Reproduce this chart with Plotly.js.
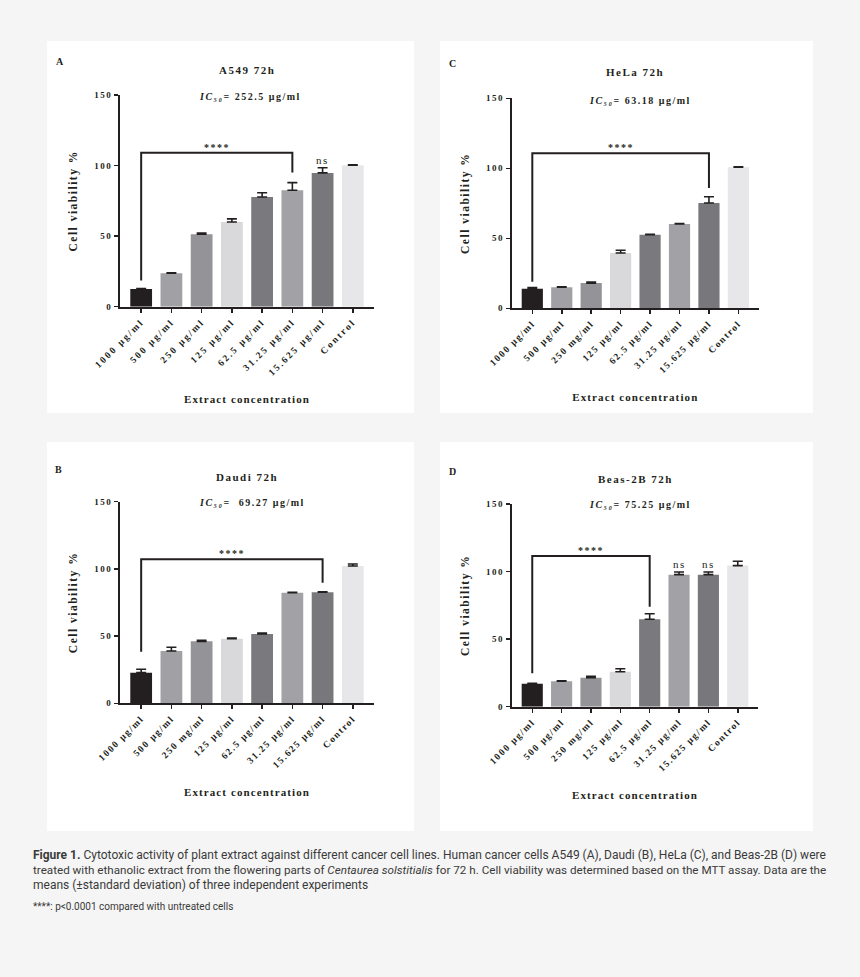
<!DOCTYPE html>
<html>
<head>
<meta charset="utf-8">
<script src="https://cdn.plot.ly/plotly-3.0.1.min.js"></script>
<style>
  html, body { margin: 0; padding: 0; background: #f5f5f5; }
  text[style*="Liberation Serif"] { letter-spacing: 1.5px; }
  .xtick text { letter-spacing: 2px !important; }
  text.xtitle, text.x2title, text.x3title, text.x4title { letter-spacing: 1.1px !important; }
</style>
</head>
<body>
<div id="chart" style="width:860px;height:977px;"></div>
<script>
// ---------------- DATA ----------------
const categoriesA = ['1000 μg/ml', '500 μg/ml', '250 μg/ml', '125 μg/ml', '62.5 μg/ml', '31.25 μg/ml', '15.625 μg/ml', 'Control'];
const categoriesBCD = ['1000 μg/ml', '500 μg/ml', '250 mg/ml', '125 μg/ml', '62.5 μg/ml', '31.25 μg/ml', '15.625 μg/ml', 'Control'];
const barColors = ['#231f20', '#a1a1a5', '#949498', '#d9d9db', '#7a7a7e', '#a2a2a6', '#78787c', '#e7e7e9'];
const yTickVals = [0, 50, 100, 150];

const valuesA549 = [12.5, 23.7, 51.3, 60.0, 77.7, 82.5, 94.8, 100.2];
const errorsA549 = [0.4, 0.4, 0.8, 2.2, 3.0, 5.4, 3.7, 0.3];
const valuesHeLa = [14.0, 15.0, 18.0, 39.5, 52.6, 60.2, 75.2, 100.7];
const errorsHeLa = [0.8, 0.4, 0.8, 2.0, 0.3, 0.3, 4.5, 0.3];
const valuesDaudi = [22.8, 38.9, 46.1, 48.1, 51.6, 82.3, 82.6, 102.2];
const errorsDaudi = [2.5, 2.8, 0.7, 0.4, 0.7, 0.3, 0.3, 1.4];
const valuesBeas = [17.0, 18.8, 21.5, 25.9, 64.7, 97.7, 97.7, 104.4];
const errorsBeas = [0.3, 0.3, 1.0, 2.2, 4.1, 2.0, 2.0, 3.2];

// significance brackets: [fromIndex, toIndex], levels [left end, top, right end]
const bracketIdxA549 = [0, 5];  const bracketLvlA549 = [18.5, 109, 95];
const bracketIdxHeLa = [0, 6];  const bracketLvlHeLa = [19, 110.7, 86];
const bracketIdxDaudi = [0, 6]; const bracketLvlDaudi = [38.4, 107.1, 89.7];
const bracketIdxBeas = [0, 4];  const bracketLvlBeas = [24.7, 111.5, 74];
const nsIdxA549 = [6];
const nsIdxBeas = [5, 6];

const titles = ['A549 72h', 'HeLa 72h', 'Daudi 72h', 'Beas-2B 72h'];
const panelLetters = ['A', 'C', 'B', 'D'];
const ic50Values = ['252.5', '63.18', ' 69.27', '75.25'];
const xAxisTitle = 'Extract concentration';
const yAxisTitle = 'Cell viability %';

// ---------------- LAYOUT HELPERS ----------------
const W = 860, H = 977;
const px = v => v / W;
const py = v => 1 - v / H;
const INK = '#231f20';
const SERIF = 'Liberation Serif';

// panel geometry in pixels
const panels = [
  { cats: categoriesA, vals: valuesA549, errs: errorsA549, bIdx: bracketIdxA549, bLvl: bracketLvlA549, ns: nsIdxA549,
    box: [47, 41, 414, 413], plotX: [120, 374], plotY: [95, 306.7],
    title: [246.7, 70], ic50: [250, 96], letter: [60, 62] },
  { cats: categoriesBCD, vals: valuesHeLa, errs: errorsHeLa, bIdx: bracketIdxHeLa, bLvl: bracketLvlHeLa, ns: [],
    box: [440, 41, 813, 413], plotX: [511.7, 759], plotY: [98.3, 308.3],
    title: [635, 72.3], ic50: [640, 100], letter: [453, 64] },
  { cats: categoriesBCD, vals: valuesDaudi, errs: errorsDaudi, bIdx: bracketIdxDaudi, bLvl: bracketLvlDaudi, ns: [],
    box: [47, 442, 414, 831], plotX: [120, 374], plotY: [501.7, 703.3],
    title: [246.7, 476.7], ic50: [251.7, 502.3], letter: [59.3, 469] },
  { cats: categoriesBCD, vals: valuesBeas, errs: errorsBeas, bIdx: bracketIdxBeas, bLvl: bracketLvlBeas, ns: nsIdxBeas,
    box: [440, 442, 813, 831], plotX: [511.7, 758.3], plotY: [504, 706.7],
    title: [635, 479.3], ic50: [640, 504], letter: [453.3, 471.7] }
];

const traces = [];
const annotations = [];
const shapes = [];
const layout = {
  width: W, height: H,
  margin: { l: 0, r: 0, t: 0, b: 0 },
  paper_bgcolor: '#f5f5f5',
  plot_bgcolor: 'rgba(0,0,0,0)',
  showlegend: false,
  bargap: 0.28,
  font: { family: SERIF, color: INK }
};

panels.forEach((p, i) => {
  const n = i === 0 ? '' : String(i + 1);
  const xa = 'x' + n, ya = 'y' + n;

  layout['xaxis' + n] = {
    domain: [px(p.plotX[0]), px(p.plotX[1])],
    anchor: ya, type: 'category', range: [-0.7, 7.7],
    showline: true, linecolor: INK, linewidth: 2,
    ticks: 'outside', ticklen: 4, tickwidth: 1.5, tickcolor: INK,
    tickangle: -45,
    tickfont: { family: SERIF, size: 9.5, color: INK, weight: 'bold' },
    title: { text: xAxisTitle, standoff: 19, font: { family: SERIF, size: 11, color: INK, weight: 'bold' } },
    showgrid: false, zeroline: false, fixedrange: true
  };
  layout['yaxis' + n] = {
    domain: [py(p.plotY[1]), py(p.plotY[0])],
    anchor: xa, range: [0, 150], tickvals: yTickVals,
    showline: true, linecolor: INK, linewidth: 2,
    ticks: 'outside', ticklen: 4, tickwidth: 1.5, tickcolor: INK,
    tickfont: { family: SERIF, size: 9, color: INK, weight: 'bold' },
    title: { text: yAxisTitle, standoff: 14, font: { family: SERIF, size: 11.5, color: INK, weight: 'bold' } },
    showgrid: false, zeroline: false, fixedrange: true
  };

  // white panel card
  shapes.push({ type: 'rect', xref: 'paper', yref: 'paper', layer: 'below',
    x0: px(p.box[0]), x1: px(p.box[2]), y0: py(p.box[3]), y1: py(p.box[1]),
    fillcolor: '#ffffff', line: { width: 0 } });

  // bars
  traces.push({
    type: 'bar', x: p.cats, y: p.vals, xaxis: xa, yaxis: ya,
    marker: { color: barColors, line: { width: 0 } },
    error_y: { type: 'data', symmetric: false, array: p.errs, arrayminus: p.errs.map(() => 0),
      visible: true, color: INK, thickness: 1.6, width: 5 },
    hoverinfo: 'x+y'
  });

  // significance bracket
  const c0 = p.cats[p.bIdx[0]], c1 = p.cats[p.bIdx[1]];
  traces.push({
    type: 'scatter', mode: 'lines', xaxis: xa, yaxis: ya,
    x: [c0, c0, c1, c1], y: [p.bLvl[0], p.bLvl[1], p.bLvl[1], p.bLvl[2]],
    line: { color: INK, width: 2 }, hoverinfo: 'skip'
  });
  annotations.push({
    xref: xa, yref: ya, x: (p.bIdx[0] + p.bIdx[1]) / 2, y: p.bLvl[1],
    text: '****', showarrow: false, xanchor: 'center', yanchor: 'bottom', yshift: -2,
    font: { family: SERIF, size: 10, color: INK, weight: 'bold' }
  });
  p.ns.forEach(k => {
    annotations.push({
      xref: xa, yref: ya, x: k, y: p.vals[k] + p.errs[k],
      text: 'ns', showarrow: false, xanchor: 'center', yanchor: 'bottom', yshift: 0,
      font: { family: SERIF, size: 11, color: INK }
    });
  });

  // texts
  annotations.push({ xref: 'paper', yref: 'paper', x: px(p.title[0]), y: py(p.title[1]),
    text: titles[i], showarrow: false, xanchor: 'center', yanchor: 'middle',
    font: { family: SERIF, size: 11, color: INK, weight: 'bold' } });
  annotations.push({ xref: 'paper', yref: 'paper', x: px(p.ic50[0]), y: py(p.ic50[1]),
    text: '<i>IC₅₀</i>= ' + ic50Values[i] + ' μg/ml', showarrow: false, xanchor: 'center', yanchor: 'middle',
    font: { family: SERIF, size: 10, color: INK, weight: 'bold' } });
  annotations.push({ xref: 'paper', yref: 'paper', x: px(p.letter[0]), y: py(p.letter[1]),
    text: panelLetters[i], showarrow: false, xanchor: 'center', yanchor: 'middle',
    font: { family: SERIF, size: 10, color: INK, weight: 'bold' } });
});

// caption
const captionLines = [
  '<b>Figure 1.</b> Cytotoxic activity of plant extract against different cancer cell lines. Human cancer cells A549 (A), Daudi (B), HeLa (C), and Beas-2B (D) were',
  'treated with ethanolic extract from the flowering parts of <i>Centaurea solstitialis</i> for 72 h. Cell viability was determined based on the MTT assay. Data are the',
  'means (±standard deviation) of three independent experiments'
];
const captionY = [855, 870, 885];
const captionSize = [12, 11.65, 12];
captionLines.forEach((t, k) => {
  annotations.push({ xref: 'paper', yref: 'paper', x: px(30.5), y: py(captionY[k]),
    text: t, showarrow: false, xanchor: 'left', yanchor: 'middle',
    font: { family: 'Roboto', size: captionSize[k], color: '#3a3a3a' } });
});
annotations.push({ xref: 'paper', yref: 'paper', x: px(30.5), y: py(906),
  text: '****: p&lt;0.0001 compared with untreated cells', showarrow: false, xanchor: 'left', yanchor: 'middle',
  font: { family: 'Roboto', size: 10, color: '#3a3a3a' } });

layout.annotations = annotations;
layout.shapes = shapes;

Plotly.newPlot('chart', traces, layout, { displayModeBar: false, staticPlot: true });
</script>
</body>
</html>
